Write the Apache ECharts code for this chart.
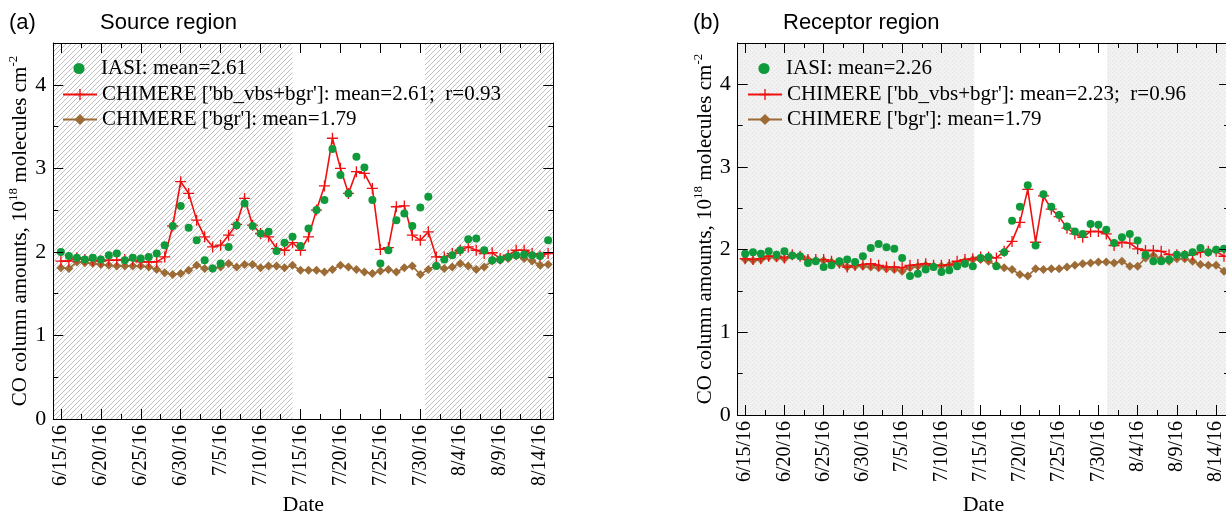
<!DOCTYPE html>
<html>
<head>
<meta charset="utf-8">
<title>CO column amounts</title>
<script src="https://cdn.jsdelivr.net/npm/echarts@6/dist/echarts.min.js"></script>
<style>
  html, body { margin: 0; padding: 0; background: #fff; }
  #main { width: 1226px; height: 519px; }
</style>
</head>
<body>
<div id="main"></div>
<script>
// x = days since 6/15/2016
var majorDays = [0, 5, 10, 15, 20, 25, 30, 35, 40, 45, 50, 55, 60];
var minorDays = [2.5, 7.5, 12.5, 17.5, 22.5, 27.5, 32.5, 37.5, 42.5, 47.5, 52.5, 57.5];
var yMajor = [0, 1, 2, 3, 4];
var yMinor = [0.5, 1.5, 2.5, 3.5];

// (a) source region
var srcIasi = [2.00, 1.95, 1.93, 1.91, 1.93, 1.91, 1.96, 1.98, 1.90, 1.93, 1.92,
  1.94, 1.98, 2.08, 2.31, 2.55, 2.29, 2.14, 1.90, 1.80, 1.86,
  2.06, 2.32, 2.58, 2.31, 2.22, 2.24, 2.01, 2.11, 2.18, 2.07,
  2.28, 2.50, 2.62, 3.23, 2.92, 2.70, 3.14, 3.01, 2.62, 1.86,
  2.02, 2.38, 2.46, 2.31, 2.53, 2.66, 1.83, 1.91, 1.96, 2.02,
  2.15, 2.16, 2.02, 1.90, 1.91, 1.94, 1.96, 1.97, 1.96, 1.95, 2.14];
var srcBbvbs = [1.89, 1.89, 1.93, 1.91, 1.90, 1.89, 1.90, 1.90, 1.91, 1.90, 1.88,
  1.88, 1.88, 1.94, 2.31, 2.84, 2.70, 2.38, 2.18, 2.06, 2.08,
  2.20, 2.33, 2.64, 2.32, 2.22, 2.18, 2.04, 2.02, 2.11, 2.02,
  2.18, 2.50, 2.79, 3.36, 3.00, 2.70, 2.96, 2.94, 2.76, 2.03,
  2.05, 2.54, 2.55, 2.20, 2.14, 2.24, 1.94, 1.94, 1.98, 2.02,
  2.06, 2.02, 1.98, 1.99, 1.92, 1.96, 2.02, 2.02, 1.98, 1.95, 1.98];
var srcBgr = [1.81, 1.80, 1.88, 1.87, 1.86, 1.85, 1.84, 1.83, 1.83, 1.83, 1.83,
  1.82, 1.79, 1.75, 1.73, 1.74, 1.78, 1.84, 1.80, 1.80, 1.82,
  1.86, 1.82, 1.85, 1.85, 1.81, 1.83, 1.83, 1.81, 1.84, 1.78,
  1.78, 1.78, 1.76, 1.79, 1.84, 1.82, 1.79, 1.76, 1.74, 1.77,
  1.79, 1.76, 1.81, 1.83, 1.73, 1.79, 1.84, 1.80, 1.82, 1.86,
  1.83, 1.79, 1.82, 1.89, 1.90, 1.92, 1.95, 1.92, 1.89, 1.84, 1.85];

// (b) receptor region
var recIasi = [1.95, 1.97, 1.95, 1.98, 1.94, 1.98, 1.93, 1.92, 1.84, 1.86, 1.79,
  1.81, 1.86, 1.88, 1.85, 1.92, 2.02, 2.07, 2.03, 2.01, 1.90,
  1.68, 1.71, 1.76, 1.79, 1.73, 1.75, 1.80, 1.83, 1.80, 1.90,
  1.91, 1.80, 1.97, 2.35, 2.52, 2.78, 2.05, 2.67, 2.52, 2.42,
  2.28, 2.22, 2.19, 2.31, 2.30, 2.24, 2.08, 2.15, 2.19, 2.11,
  1.94, 1.86, 1.86, 1.88, 1.94, 1.94, 1.97, 2.02, 1.97, 2.00, 2.01];
var recBbvbs = [1.89, 1.88, 1.89, 1.92, 1.92, 1.90, 1.94, 1.92, 1.88, 1.88, 1.88,
  1.86, 1.84, 1.79, 1.81, 1.82, 1.83, 1.81, 1.79, 1.79, 1.78,
  1.81, 1.82, 1.83, 1.81, 1.81, 1.82, 1.86, 1.88, 1.89, 1.91,
  1.91, 1.90, 1.98, 2.10, 2.33, 2.73, 2.09, 2.65, 2.49, 2.40,
  2.26, 2.19, 2.15, 2.22, 2.22, 2.19, 2.05, 2.09, 2.08, 2.01,
  1.99, 1.99, 1.98, 1.94, 1.94, 1.93, 1.94, 1.97, 1.98, 1.98, 1.92];
var recBgr = [1.88, 1.87, 1.88, 1.91, 1.90, 1.89, 1.93, 1.92, 1.88, 1.87, 1.87,
  1.85, 1.83, 1.79, 1.80, 1.80, 1.79, 1.78, 1.77, 1.76, 1.74,
  1.78, 1.80, 1.81, 1.80, 1.80, 1.81, 1.82, 1.86, 1.88, 1.88,
  1.86, 1.81, 1.78, 1.76, 1.70, 1.68, 1.77, 1.76, 1.77, 1.77,
  1.79, 1.81, 1.83, 1.84, 1.85, 1.85, 1.84, 1.86, 1.80, 1.80,
  1.90, 1.93, 1.89, 1.86, 1.89, 1.89, 1.86, 1.82, 1.81, 1.81, 1.74];

var srcNames = ['IASI: mean=2.61', "CHIMERE ['bb_vbs+bgr']: mean=2.61;  r=0.93", "CHIMERE ['bgr']: mean=1.79"];
var recNames = ['IASI: mean=2.26', "CHIMERE ['bb_vbs+bgr']: mean=2.23;  r=0.96", "CHIMERE ['bgr']: mean=1.79"];

var xMin = -0.95, xMax = 61.65;
var serif = 'Liberation Serif';
var sans = 'Liberation Sans';
var green = '#0f9a3c', red = '#ee1111', brown = '#9d6b35';
var plusPath = 'path://M4.4,0H5.6V4.4H10V5.6H5.6V10H4.4V5.6H0V4.4H4.4Z';

function fmtDate(v) {
  var d = new Date(2016, 5, 15 + Math.round(v));
  return (d.getMonth() + 1) + '/' + d.getDate() + '/16';
}

function pairs(arr) {
  return arr.map(function (v, i) { return [i, v]; });
}

// diagonal hatch for panel (a)
function hatch() {
  var c = document.createElement('canvas');
  c.width = 5; c.height = 5;
  var g = c.getContext('2d');
  g.strokeStyle = '#b9b9b9';
  g.lineWidth = 0.9;
  g.beginPath();
  g.moveTo(0, 5); g.lineTo(5, 0);
  g.moveTo(-1, 1); g.lineTo(1, -1);
  g.moveTo(4, 6); g.lineTo(6, 4);
  g.stroke();
  return { image: c, repeat: 'repeat' };
}

// light stipple for panel (b)
function stipple() {
  var c = document.createElement('canvas');
  c.width = 4; c.height = 4;
  var g = c.getContext('2d');
  g.fillStyle = '#f1f1f1';
  g.fillRect(0, 0, 4, 4);
  g.fillStyle = '#e2e2e2';
  g.fillRect(0, 0, 1, 1);
  g.fillRect(2, 2, 1, 1);
  return { image: c, repeat: 'repeat' };
}

var black = { color: '#000', width: 1 };

function xAxes(gi, gap) {
  var base = { type: 'value', gridIndex: gi, min: xMin, max: xMax, splitLine: { show: false }, z: 10 };
  return [
    Object.assign({}, base, {
      position: 'bottom',
      axisLine: { show: true, onZero: false, lineStyle: black },
      axisTick: { show: true, inside: true, length: 10, customValues: majorDays, lineStyle: black },
      axisLabel: { show: true, customValues: majorDays, rotate: 90, margin: 6, formatter: fmtDate,
        fontFamily: serif, fontSize: 20, color: '#000' },
      name: 'Date', nameLocation: 'middle', nameGap: gap,
      nameTextStyle: { fontFamily: serif, fontSize: 22, color: '#000' }
    }),
    Object.assign({}, base, {
      position: 'bottom',
      axisLine: { show: false, onZero: false },
      axisTick: { show: true, inside: true, length: 5, customValues: minorDays, lineStyle: black },
      axisLabel: { show: false }
    }),
    Object.assign({}, base, {
      position: 'top',
      axisLine: { show: true, onZero: false, lineStyle: black },
      axisTick: { show: true, inside: true, length: 10, customValues: majorDays, lineStyle: black },
      axisLabel: { show: false }
    }),
    Object.assign({}, base, {
      position: 'top',
      axisLine: { show: false, onZero: false },
      axisTick: { show: true, inside: true, length: 5, customValues: minorDays, lineStyle: black },
      axisLabel: { show: false }
    })
  ];
}

function yAxes(gi, gap) {
  var base = { type: 'value', gridIndex: gi, min: 0, max: 4.5, splitLine: { show: false }, z: 10 };
  return [
    Object.assign({}, base, {
      position: 'left',
      axisLine: { show: true, onZero: false, lineStyle: black },
      axisTick: { show: true, inside: true, length: 10, customValues: yMajor, lineStyle: black },
      axisLabel: { show: true, customValues: yMajor, margin: 7, fontFamily: serif, fontSize: 22, color: '#000' },
      name: '{t|CO column amounts, 10}{s|18}{t| molecules cm}{s|-2}',
      nameLocation: 'middle', nameGap: gap,
      nameTextStyle: {
        color: '#000',
        rich: {
          t: { fontFamily: serif, fontSize: 21, lineHeight: 24, verticalAlign: 'bottom', color: '#000' },
          s: { fontFamily: serif, fontSize: 13, lineHeight: 24, verticalAlign: 'top', color: '#000' }
        }
      }
    }),
    Object.assign({}, base, {
      position: 'left',
      axisLine: { show: false, onZero: false },
      axisTick: { show: true, inside: true, length: 5, customValues: yMinor, lineStyle: black },
      axisLabel: { show: false }
    }),
    Object.assign({}, base, {
      position: 'right',
      axisLine: { show: true, onZero: false, lineStyle: black },
      axisTick: { show: true, inside: true, length: 10, customValues: yMajor, lineStyle: black },
      axisLabel: { show: false }
    }),
    Object.assign({}, base, {
      position: 'right',
      axisLine: { show: false, onZero: false },
      axisTick: { show: true, inside: true, length: 5, customValues: yMinor, lineStyle: black },
      axisLabel: { show: false }
    })
  ];
}

function panelSeries(ai, names, iasi, bbvbs, bgr, shade, areas) {
  return [
    {
      name: names[2], type: 'line', xAxisIndex: ai, yAxisIndex: ai, data: pairs(bgr),
      symbol: 'diamond', symbolSize: 9, showAllSymbol: true,
      itemStyle: { color: brown }, lineStyle: { color: brown, width: 1.6 },
      markArea: { silent: true, z: 0, itemStyle: { color: shade }, data: areas }
    },
    {
      name: names[1], type: 'line', xAxisIndex: ai, yAxisIndex: ai, data: pairs(bbvbs),
      symbol: plusPath, symbolSize: 11, showAllSymbol: true,
      itemStyle: { color: red }, lineStyle: { color: red, width: 1.6 }
    },
    {
      // dots only: line series with hidden line, so the legend icon is centred
      name: names[0], type: 'line', xAxisIndex: ai, yAxisIndex: ai, data: pairs(iasi),
      symbol: 'circle', symbolSize: 8, showAllSymbol: true,
      itemStyle: { color: green }, lineStyle: { width: 0, opacity: 0 }
    }
  ];
}

function legendRow(left, top, name) {
  return {
    data: [name], left: left, top: top, padding: 0, orient: 'vertical',
    itemWidth: 34, itemHeight: 14, itemGap: 0, selectedMode: false,
    textStyle: { fontFamily: serif, fontSize: 21, color: '#000' }
  };
}

var titleFont = { fontFamily: sans, fontSize: 22, fontWeight: 'normal', color: '#000' };

var myChart = echarts.init(document.getElementById('main'));

var option = {
  animation: false,
  title: [
    { text: '(a)', left: 9, top: 12, padding: 0, textStyle: titleFont },
    { text: 'Source region', left: 100, top: 12, padding: 0, textStyle: titleFont },
    { text: '(b)', left: 693, top: 12, padding: 0, textStyle: titleFont },
    { text: 'Receptor region', left: 783, top: 12, padding: 0, textStyle: titleFont }
  ],
  legend: [
    legendRow(62, 58, srcNames[0]),
    legendRow(62, 84, srcNames[1]),
    legendRow(62, 109, srcNames[2]),
    legendRow(747, 58, recNames[0]),
    legendRow(747, 84, recNames[1]),
    legendRow(747, 109, recNames[2])
  ],
  grid: [
    { left: 53.3, top: 43, width: 500, height: 376, outerBoundsMode: 'none' },
    { left: 737.7, top: 43, width: 491.4, height: 372, outerBoundsMode: 'none' }
  ],
  xAxis: xAxes(0, 73).concat(xAxes(1, 79)),
  yAxis: yAxes(0, 22).concat(yAxes(1, 21)),
  series: panelSeries(0, srcNames, srcIasi, srcBbvbs, srcBgr, hatch(),
      [[{ xAxis: xMin }, { xAxis: 29.0 }], [{ xAxis: 45.6 }, { xAxis: xMax }]])
    .concat(panelSeries(4, recNames, recIasi, recBbvbs, recBgr, stipple(),
      [[{ xAxis: xMin }, { xAxis: 29.2 }], [{ xAxis: 46.1 }, { xAxis: xMax }]]))
};

myChart.setOption(option);
</script>
</body>
</html>
